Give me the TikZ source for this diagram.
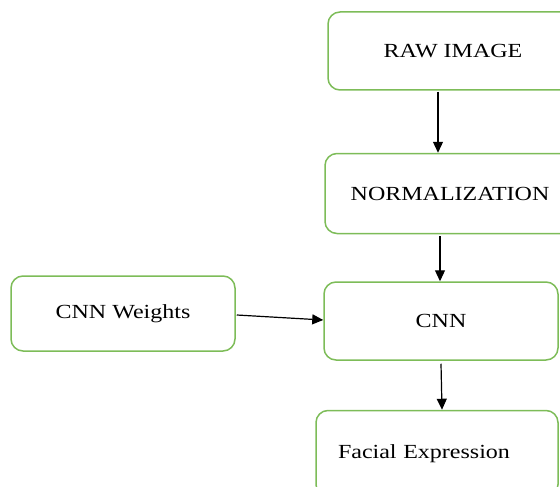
\documentclass[tikz,border=0pt]{standalone}
\usepackage{fontspec}
\setmainfont{Liberation Serif}[FakeStretch=1.2]
\usepackage{xcolor}
\usepackage{tikz}
\usetikzlibrary{arrows.meta,positioning}
\definecolor{boxgreen}{RGB}{125,188,88}
\tikzset{
  gbox/.style={draw=boxgreen, line width=1.5pt, rounded corners=12pt, align=center, font=\fontsize{20}{24}\selectfont, inner sep=0pt, minimum width=234pt, minimum height=78pt},
  farr/.style={-{Triangle[length=11pt,width=10pt]}, line width=1.2pt}
}
\begin{document}
\begin{tikzpicture}[x=1pt,y=-1pt]
\clip (0,0) rectangle (560,487);
\node[gbox, minimum width=250pt] (raw) at (453,51) {RAW IMAGE};
\node[gbox, minimum width=250pt, minimum height=80pt, below=62pt of raw, xshift=-3pt] (norm) {NORMALIZATION};
\node[gbox, below=47pt of norm, xshift=-9pt] (cnn) {CNN};
\node[gbox, minimum width=224pt, minimum height=75pt] (wts) at (123,313.5) {CNN Weights};
\node[gbox, minimum width=242pt, minimum height=86pt, text width=198pt, align=left, inner xsep=22pt, below=49pt of cnn, xshift=-4pt] (face) {Facial Expression};
\draw[farr] ([xshift=-15pt,yshift=-1pt]raw.south) -- ([xshift=-12pt]norm.north);
\draw[farr] ([xshift=-10pt,yshift=-2pt]norm.south) -- ([xshift=-1pt]cnn.north);
\draw[farr] ([xshift=1pt,yshift=-1.5pt]wts.east) -- ([yshift=1pt]cnn.west);
\draw[farr] ([yshift=-3pt]cnn.south) -- ([xshift=5pt]face.north);
\end{tikzpicture}
\end{document}
